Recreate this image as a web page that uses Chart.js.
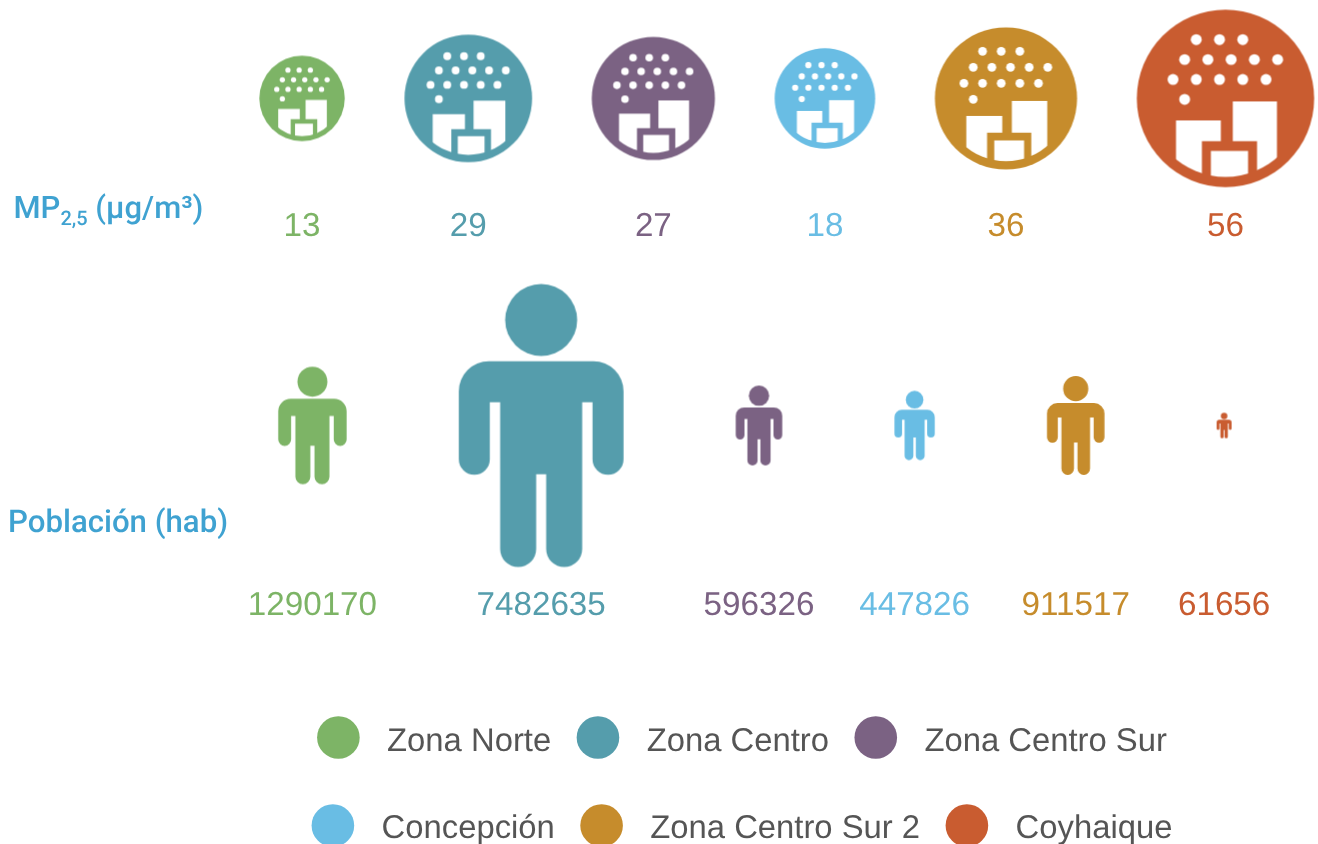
<!DOCTYPE html>
<html>
<head>
<meta charset="utf-8">
<title>MP2,5 y población por zona</title>
<script src="https://cdn.jsdelivr.net/npm/chart.js@4"></script>
<style>
  html, body { margin: 0; padding: 0; background: #fff; overflow: hidden; }
  canvas { display: block; }
</style>
</head>
<body>
<canvas id="zonas" width="1318" height="844"></canvas>
<script>
// data
var zonas = ["Zona Norte", "Zona Centro", "Zona Centro Sur", "Concepción", "Zona Centro Sur 2", "Coyhaique"];
var mp25 = [13, 29, 27, 18, 36, 56];
var poblacion = [1290170, 7482635, 596326, 447826, 911517, 61656];
var leyendaFilas = [[0, 1, 2], [3, 4, 5]];

var colores = ["#7db466", "#559dac", "#7b6283", "#69bde4", "#c68c2c", "#c95c30"];
var azulTitulo = "#3fa2d1";
var grisLeyenda = "#555555";

// icons are area-proportional to their value
var kMp = 11.85;
var kPob = 0.05175;      // half height of the person icon per sqrt(hab)
var personaAncho = 494 / 849;

function radioMp(v) { return kMp * Math.sqrt(v); }
function radioPob(v) { return kPob * Math.sqrt(v); }

// icons in a row are packed left to right with a constant gap
function empaquetar(medios, inicio, hueco) {
  var xs = [];
  var cursor = inicio;
  for (var i in medios) {
    xs.push(cursor + medios[i]);
    cursor += 2 * medios[i] + hueco;
  }
  return xs;
}

var radiosMp = mp25.map(radioMp);
var radiosPob = poblacion.map(radioPob);
var xMp = empaquetar(radiosMp, 259.3, 59.7);
var xPob = empaquetar(radiosPob.map(function(r) { return r * personaAncho; }), 278.2, 112.2);

var filaMp = 98.4;
var filaPob = 425.5;

function iconoCiudad(color, r) {
  var c = document.createElement("canvas");
  var lado = Math.ceil(2 * r) + 2;
  c.width = lado;
  c.height = lado;
  var g = c.getContext("2d");
  var e = r / 267;
  g.translate(lado / 2, lado / 2);
  g.scale(e, e);

  g.fillStyle = color;
  g.beginPath();
  g.arc(0, 0, 267, 0, Math.PI * 2);
  g.fill();

  g.fillStyle = "#fff";
  var puntos = [
    [-88, -177], [-18, -177], [52, -177],
    [-123, -117], [-53, -117], [17, -117], [87, -117], [157, -117],
    [-158, -57], [-88, -57], [-18, -57], [52, -57], [122, -57],
    [-123, 3]
  ];
  puntos.forEach(function(p) {
    g.beginPath();
    g.arc(p[0], p[1], 16.5, 0, Math.PI * 2);
    g.fill();
  });

  g.save();
  g.beginPath();
  g.arc(0, 0, 236, 0, Math.PI * 2);
  g.clip();
  g.beginPath();
  g.moveTo(-149, 66);
  g.lineTo(-14, 66);
  g.lineTo(-14, 129);
  g.lineTo(-71, 129);
  g.lineTo(-71, 267);
  g.lineTo(-149, 267);
  g.closePath();
  g.moveTo(22, 9);
  g.lineTo(155, 9);
  g.lineTo(155, 267);
  g.lineTo(95, 267);
  g.lineTo(95, 129);
  g.lineTo(22, 129);
  g.closePath();
  g.rect(-44, 158, 112, 109);
  g.fill();
  g.restore();
  return c;
}

function iconoPersona(color, r) {
  var c = document.createElement("canvas");
  var alto = 2 * r;
  c.width = Math.ceil(alto * personaAncho) + 2;
  c.height = Math.ceil(alto) + 2;
  var g = c.getContext("2d");
  var e = alto / 849;
  g.translate(c.width / 2, c.height / 2);
  g.scale(e, e);
  g.translate(-303, -450.5);

  g.fillStyle = color;
  g.beginPath();
  g.arc(303, 134, 108, 0, Math.PI * 2);
  g.fill();

  var pi = Math.PI;
  g.beginPath();
  g.moveTo(146, 258);
  g.lineTo(460, 258);
  g.arc(460, 348, 90, -pi / 2, 0);
  g.lineTo(550, 552);
  g.arc(503.5, 552, 46.5, 0, pi);
  g.lineTo(457, 381);
  g.lineTo(426, 381);
  g.lineTo(426, 821);
  g.arc(372, 821, 54, 0, pi);
  g.lineTo(318, 597);
  g.lineTo(288, 597);
  g.lineTo(288, 821);
  g.arc(234, 821, 54, 0, pi);
  g.lineTo(180, 381);
  g.lineTo(149, 381);
  g.lineTo(149, 552);
  g.arc(102.5, 552, 46.5, 0, pi);
  g.lineTo(56, 348);
  g.arc(146, 348, 90, pi, pi * 1.5);
  g.closePath();
  g.fill();
  return c;
}

var iconosMp = colores.map(function(col, i) { return iconoCiudad(col, radiosMp[i]); });
var iconosPob = colores.map(function(col, i) { return iconoPersona(col, radiosPob[i]); });

// value labels, row titles and the two row legend
var textos = {
  id: "textos",
  afterDatasetsDraw: function(chart) {
    var ctx = chart.ctx;
    var sx = chart.scales.x;
    var sy = chart.scales.y;
    ctx.save();
    ctx.textBaseline = "alphabetic";
    ctx.textRendering = "geometricPrecision";

    ctx.textAlign = "center";
    ctx.font = "33.2px 'Liberation Sans'";
    zonas.forEach(function(z, i) {
      ctx.fillStyle = colores[i];
      ctx.fillText(String(mp25[i]), sx.getPixelForValue(xMp[i]), sy.getPixelForValue(235.5));
      ctx.fillText(String(poblacion[i]), sx.getPixelForValue(xPob[i]), sy.getPixelForValue(615));
    });

    ctx.textAlign = "left";
    ctx.fillStyle = azulTitulo;
    ctx.font = "500 31px Roboto";
    ctx.fillText("MP", 13.5, 218);
    var x = 13.5 + ctx.measureText("MP").width;
    ctx.font = "500 20px Roboto";
    ctx.fillText("2,5", x, 225);
    x += ctx.measureText("2,5").width;
    ctx.font = "500 31px Roboto";
    ctx.fillText(" (µg/m³)", x, 218);
    ctx.font = "500 31.2px Roboto";
    ctx.fillText("Población (hab)", 8, 532);

    ctx.font = "32.8px 'Liberation Sans'";
    var radio = 21.3;
    var aTexto = 27.4;
    var entre = 25.5;
    var centro = 742;
    var yCirculo = [737.5, 825.5];
    var yTexto = [751, 838];
    leyendaFilas.forEach(function(fila, f) {
      var total = 0;
      fila.forEach(function(i, n) {
        total += 2 * radio + aTexto + ctx.measureText(zonas[i]).width;
        if (n > 0) total += entre;
      });
      var cur = centro - total / 2;
      fila.forEach(function(i) {
        ctx.fillStyle = colores[i];
        ctx.beginPath();
        ctx.arc(cur + radio, yCirculo[f], radio, 0, Math.PI * 2);
        ctx.fill();
        cur += 2 * radio + aTexto;
        ctx.fillStyle = grisLeyenda;
        ctx.fillText(zonas[i], cur, yTexto[f]);
        cur += ctx.measureText(zonas[i]).width + entre;
      });
    });
    ctx.restore();
  }
};

var chartdata = {
  datasets: [
    {
      label: "MP2,5 (µg/m³)",
      data: mp25.map(function(v, i) { return { x: xMp[i], y: filaMp, r: radiosMp[i] }; }),
      backgroundColor: colores,
      borderWidth: 0,
      pointStyle: function(c) { return iconosMp[c.dataIndex]; }
    },
    {
      label: "Población (hab)",
      data: poblacion.map(function(v, i) { return { x: xPob[i], y: filaPob, r: radiosPob[i] }; }),
      backgroundColor: colores,
      borderWidth: 0,
      pointStyle: function(c) { return iconosPob[c.dataIndex]; }
    }
  ]
};

var grafico = new Chart(document.getElementById("zonas"), {
  type: "bubble",
  data: chartdata,
  plugins: [textos],
  options: {
    responsive: false,
    animation: false,
    events: [],
    layout: { padding: 0, autoPadding: false },
    plugins: { legend: { display: false }, tooltip: { enabled: false } },
    scales: {
      x: { type: "linear", display: false, min: 0, max: 1318 },
      y: { type: "linear", display: false, min: 0, max: 844, reverse: true }
    }
  }
});
</script>
</body>
</html>
